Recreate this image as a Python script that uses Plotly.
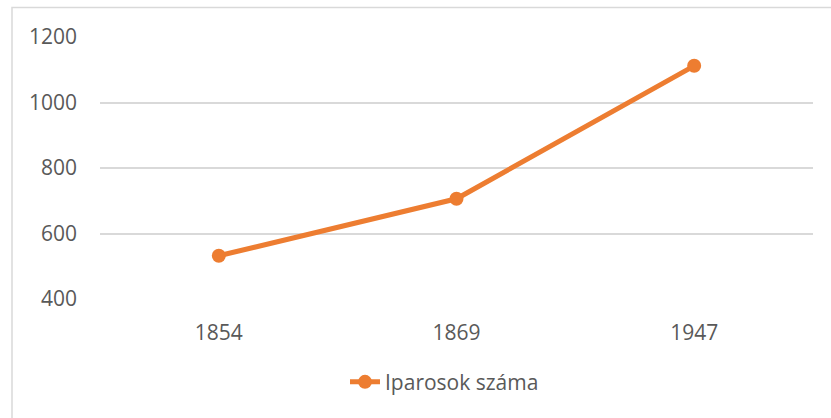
import plotly.graph_objects as go

years = ["1854", "1869", "1947"]
iparosok = [532, 706, 1112]
y_ticks = [400, 600, 800, 1000, 1200]

ORANGE = "#ED7D31"
GRAY = "#595959"
FONT = "Open Sans"

fig = go.Figure()
fig.add_trace(go.Scatter(
    x=years, y=iparosok, mode="lines+markers", name="Iparosok száma",
    line=dict(color=ORANGE, width=5),
    marker=dict(color=ORANGE, size=14),
))

L, R, T, B = 100, 18, 36.5, 118.5
W, H = 831, 418
pw = W - L - R
ph = H - T - B

fig.update_layout(
    width=W, height=H,
    margin=dict(l=L, r=R, t=T, b=B, pad=0, autoexpand=False),
    paper_bgcolor="white", plot_bgcolor="white",
    font=dict(family=FONT, size=21, color=GRAY),
    showlegend=True,
    legend=dict(orientation="h", x=(345 - L) / pw, xanchor="left",
                y=(ph - (383 - T)) / ph, yanchor="middle",
                font=dict(size=21, color=GRAY), bgcolor="rgba(0,0,0,0)"),
    xaxis=dict(type="category", range=[-0.5, 2.5], showgrid=False, zeroline=False,
               showline=False, automargin=False,
               ticks="", tickfont=dict(size=21, color=GRAY), ticklabelstandoff=19),
    yaxis=dict(range=[400, 1200], tickvals=y_ticks, showgrid=True, automargin=False,
               gridcolor="#D9D9D9", gridwidth=2, zeroline=False, showline=False,
               ticks="", tickfont=dict(size=21, color=GRAY), ticklabelstandoff=22),
    shapes=[dict(type="rect", xref="paper", yref="paper",
                 x0=(12 - L) / pw, x1=(W + 20 - L) / pw,
                 y0=(T + ph - (H + 20)) / ph, y1=(T + ph - 7) / ph,
                 line=dict(color="#D9D9D9", width=1.5), fillcolor="rgba(0,0,0,0)",
                 layer="below")],
)

fig.write_html("out.html", config={"displayModeBar": False},
               post_script="document.body.style.margin='0px';document.body.style.overflow='hidden';")
